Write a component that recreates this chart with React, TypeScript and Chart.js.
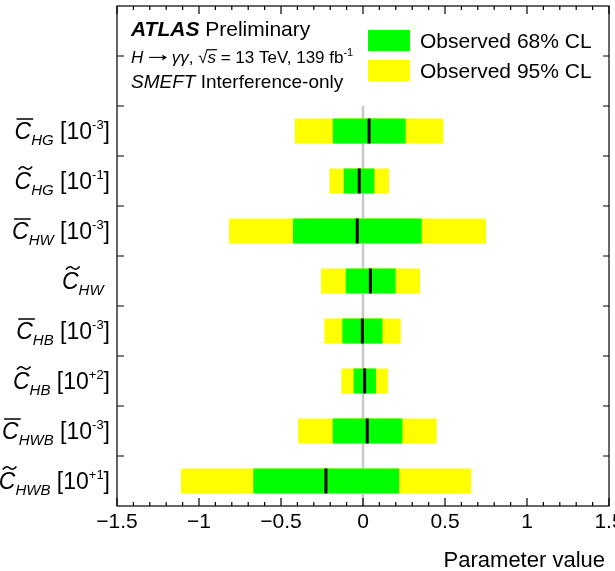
import { useEffect, useRef } from 'react';
import { Chart, registerables } from 'chart.js';

Chart.register(...registerables);

// ---------- data ----------
const categories = ['CHG', 'CHG~', 'CHW', 'CHW~', 'CHB', 'CHB~', 'CHWB', 'CHWB~'];
const accents = ['bar', 'tilde', 'bar', 'tilde', 'bar', 'tilde', 'bar', 'tilde'];
const subscripts = ['HG', 'HG', 'HW', 'HW', 'HB', 'HB', 'HWB', 'HWB'];
const powers = ['-3', '-1', '-3', '', '-3', '+2', '-3', '+1'];
const bestFit = [0.037, -0.023, -0.035, 0.045, -0.004, 0.010, 0.026, -0.226];
const low68 = [-0.184, -0.118, -0.427, -0.105, -0.126, -0.057, -0.185, -0.669];
const high68 = [0.260, 0.069, 0.358, 0.199, 0.118, 0.079, 0.240, 0.220];
const low95 = [-0.416, -0.205, -0.817, -0.256, -0.236, -0.132, -0.396, -1.110];
const high95 = [0.490, 0.159, 0.750, 0.348, 0.230, 0.152, 0.449, 0.660];
const padRows = ['pad-1', 'pad-2'];
const xTickValues = [-1.5, -1, -0.5, 0, 0.5, 1, 1.5];
const xTickLabels = ['\u22121.5', '\u22121', '\u22120.5', '0', '0.5', '1', '1.5'];
const legendLabels = ['Observed 68% CL', 'Observed 95% CL'];
const xTitle = 'Parameter value';

const FONT = '"Liberation Sans", Arial, Helvetica, sans-serif';
const GREEN = '#00ff00';
const YELLOW = '#ffff00';

type Seg = { t: string; size: number; style?: string; dy?: number; overline?: boolean; arrow?: number };

function drawSegs(ctx: CanvasRenderingContext2D, x: number, y: number, segs: Seg[]) {
  let cx = x;
  for (const s of segs) {
    if (s.arrow) {
      const w = s.arrow;
      const ay = y - s.size * 0.33;
      ctx.save();
      ctx.lineWidth = 1.1;
      ctx.beginPath();
      ctx.moveTo(cx + 1, ay);
      ctx.lineTo(cx + w - 1, ay);
      ctx.stroke();
      ctx.beginPath();
      ctx.moveTo(cx + w, ay);
      ctx.lineTo(cx + w - 5, ay - 3);
      ctx.lineTo(cx + w - 4, ay);
      ctx.lineTo(cx + w - 5, ay + 3);
      ctx.closePath();
      ctx.fill();
      ctx.restore();
      cx += w;
      continue;
    }
    ctx.font = `${s.style || ''} ${s.size}px ${FONT}`.trim();
    const w = ctx.measureText(s.t).width;
    ctx.fillText(s.t, cx, y + (s.dy || 0));
    if (s.overline) {
      ctx.save();
      ctx.lineWidth = 1.2;
      ctx.beginPath();
      ctx.moveTo(cx - 1, y - s.size * 0.78);
      ctx.lineTo(cx + w + 1, y - s.size * 0.78);
      ctx.stroke();
      ctx.restore();
    }
    cx += w;
  }
  return cx - x;
}

function drawYLabel(ctx: CanvasRenderingContext2D, i: number, yc: number, rightX: number) {
  const base = 23, sub = 15, sup = 13;
  ctx.font = `italic ${base}px ${FONT}`;
  const wC = ctx.measureText('C').width;
  ctx.font = `italic ${sub}px ${FONT}`;
  const wS = ctx.measureText(subscripts[i]).width;
  let wOpen = 0, wSup = 0, wClose = 0;
  ctx.font = `${base}px ${FONT}`;
  if (powers[i]) {
    wOpen = ctx.measureText(' [10').width;
    wClose = ctx.measureText(']').width;
    ctx.font = `${sup}px ${FONT}`;
    wSup = ctx.measureText(powers[i]).width;
  } else {
    wOpen = ctx.measureText(' ').width;
  }
  const total = wC + wS + wOpen + wSup + wClose;
  let x = rightX - total;
  const by = yc + 8;
  ctx.fillStyle = '#000';
  ctx.strokeStyle = '#000';
  ctx.textAlign = 'left';
  ctx.textBaseline = 'alphabetic';
  ctx.font = `italic ${base}px ${FONT}`;
  ctx.fillText('C', x, by);
  // accent
  ctx.save();
  ctx.lineWidth = 1.5;
  ctx.beginPath();
  if (accents[i] === 'bar') {
    ctx.moveTo(x + 2, by - 20);
    ctx.lineTo(x + wC + 2, by - 20);
  } else {
    const x0 = x + 4, x1 = x + wC + 1, yy = by - 21;
    const w = x1 - x0;
    ctx.moveTo(x0, yy + 1.5);
    ctx.bezierCurveTo(x0 + w * 0.25, yy - 3, x0 + w * 0.4, yy - 1, x0 + w * 0.5, yy);
    ctx.bezierCurveTo(x0 + w * 0.6, yy + 1, x0 + w * 0.75, yy + 3, x1, yy - 1.5);
  }
  ctx.stroke();
  ctx.restore();
  x += wC;
  ctx.font = `italic ${sub}px ${FONT}`;
  ctx.fillText(subscripts[i], x, by + 6);
  x += wS;
  if (powers[i]) {
    ctx.font = `${base}px ${FONT}`;
    ctx.fillText(' [10', x, by);
    x += wOpen;
    ctx.font = `${sup}px ${FONT}`;
    ctx.fillText(powers[i], x, by - 10);
    x += wSup;
    ctx.font = `${base}px ${FONT}`;
    ctx.fillText(']', x, by);
  }
}

const decorPlugin = {
  id: 'atlasDecor',
  beforeDatasetsDraw(chart: any) {
    const { ctx, chartArea, scales } = chart;
    const xs = scales.x, ys = scales.y;
    const x0 = xs.getPixelForValue(0);
    const topY = (ys.getPixelForValue(padRows.length - 1) + ys.getPixelForValue(padRows.length)) / 2;
    ctx.save();
    ctx.strokeStyle = '#c8c8c8';
    ctx.lineWidth = 2.5;
    ctx.beginPath();
    ctx.moveTo(x0, topY);
    ctx.lineTo(x0, chartArea.bottom);
    ctx.stroke();
    ctx.restore();
  },
  afterDraw(chart: any) {
    const { ctx, chartArea, scales } = chart;
    const xs = scales.x, ys = scales.y;
    const { left, right, top, bottom } = chartArea;
    ctx.save();
    ctx.strokeStyle = '#000';
    ctx.fillStyle = '#000';
    ctx.lineWidth = 1.2;
    ctx.strokeRect(left, top, right - left, bottom - top);
    // x ticks
    ctx.beginPath();
    const minV = xs.min, maxV = xs.max;
    for (let k = Math.round(minV * 10); k <= Math.round(maxV * 10); k++) {
      const v = k / 10;
      const px = xs.getPixelForValue(v);
      const major = k % 5 === 0;
      const len = major ? 8 : 4;
      ctx.moveTo(px, bottom);
      ctx.lineTo(px, bottom - len);
      ctx.moveTo(px, top);
      ctx.lineTo(px, top + len);
    }
    // y ticks at row boundaries
    const n = ys.getLabels().length;
    for (let i = 1; i < n; i++) {
      const py = (ys.getPixelForValue(i - 1) + ys.getPixelForValue(i)) / 2;
      ctx.moveTo(left, py);
      ctx.lineTo(left + 7, py);
      ctx.moveTo(right, py);
      ctx.lineTo(right - 6, py);
    }
    ctx.stroke();
    // x tick labels
    ctx.font = `21px ${FONT}`;
    ctx.textAlign = 'center';
    ctx.textBaseline = 'alphabetic';
    xTickValues.forEach((v, i) => {
      ctx.fillText(xTickLabels[i], xs.getPixelForValue(v), bottom + 22);
    });
    // x title
    ctx.font = `22px ${FONT}`;
    ctx.textAlign = 'right';
    ctx.fillText(xTitle, right - 4, bottom + 61);
    // y labels
    categories.forEach((c, i) => {
      drawYLabel(ctx, i, ys.getPixelForValue(padRows.length + i), left - 7);
    });
    // header
    ctx.textAlign = 'left';
    const hx = left + 14;
    drawSegs(ctx, hx, top + 30, [
      { t: 'ATLAS', size: 21, style: 'italic bold' },
      { t: ' Preliminary', size: 21 },
    ]);
    drawSegs(ctx, hx, top + 57, [
      { t: 'H', size: 17, style: 'italic' },
      { t: ' ', size: 17 },
      { t: '', size: 17, arrow: 19 },
      { t: ' ', size: 17 },
      { t: '\u03b3\u03b3', size: 17, style: 'italic' },
      { t: ', ', size: 17 },
      { t: '\u221a', size: 17 },
      { t: 's', size: 17, style: 'italic', overline: true },
      { t: ' = 13 TeV, 139 fb', size: 17 },
      { t: '-1', size: 11, dy: -7 },
    ]);
    drawSegs(ctx, hx, top + 82, [
      { t: 'SMEFT', size: 19, style: 'italic' },
      { t: ' Interference-only', size: 19 },
    ]);
    // legend
    const lx = 368, lw = 42, lh = 21;
    ctx.fillStyle = GREEN;
    ctx.fillRect(lx, 30, lw, lh);
    ctx.fillStyle = YELLOW;
    ctx.fillRect(lx, 60, lw, lh);
    ctx.fillStyle = '#000';
    ctx.font = `21px ${FONT}`;
    ctx.fillText(legendLabels[0], 420, 48);
    ctx.fillText(legendLabels[1], 420, 78);
    ctx.restore();
  },
};

export default function App() {
  const ref = useRef<HTMLCanvasElement | null>(null);
  useEffect(() => {
    if (!ref.current) return;
    const labels = [...padRows, ...categories];
    const pad = padRows.map(() => null);
    const chart = new Chart(ref.current, {
      type: 'bar',
      data: {
        labels,
        datasets: [
          {
            type: 'scatter',
            label: 'Best fit',
            data: categories.map((c, i) => ({ x: bestFit[i], y: c })),
            pointStyle: 'line',
            rotation: 90,
            radius: 12.5,
            borderColor: '#000',
            backgroundColor: '#000',
            borderWidth: 3,
            showLine: false,
            order: 0,
          } as any,
          {
            label: legendLabels[0],
            data: [...pad, ...categories.map((_, i) => [low68[i], high68[i]])],
            backgroundColor: GREEN,
            borderWidth: 0,
            barPercentage: 0.5,
            categoryPercentage: 1,
            grouped: false,
            order: 1,
          } as any,
          {
            label: legendLabels[1],
            data: [...pad, ...categories.map((_, i) => [low95[i], high95[i]])],
            backgroundColor: YELLOW,
            borderWidth: 0,
            barPercentage: 0.5,
            categoryPercentage: 1,
            grouped: false,
            order: 2,
          } as any,
        ],
      },
      options: {
        indexAxis: 'y',
        animation: false,
        responsive: false,
        devicePixelRatio: 1,
        layout: { autoPadding: false, padding: { left: 117, right: 6, top: 6, bottom: 65 } },
        scales: {
          x: { type: 'linear', min: -1.5, max: 1.5, display: false, offset: false },
          y: { type: 'category', display: false, offset: true },
        },
        plugins: { legend: { display: false }, tooltip: { enabled: false } },
      } as any,
      plugins: [decorPlugin],
    });
    return () => chart.destroy();
  }, []);
  return (
    <div style={{ position: 'fixed', left: 0, top: 0, width: 615, height: 571, background: '#fff' }}>
      <canvas ref={ref} width={615} height={571} style={{ display: 'block' }} />
    </div>
  );
}
